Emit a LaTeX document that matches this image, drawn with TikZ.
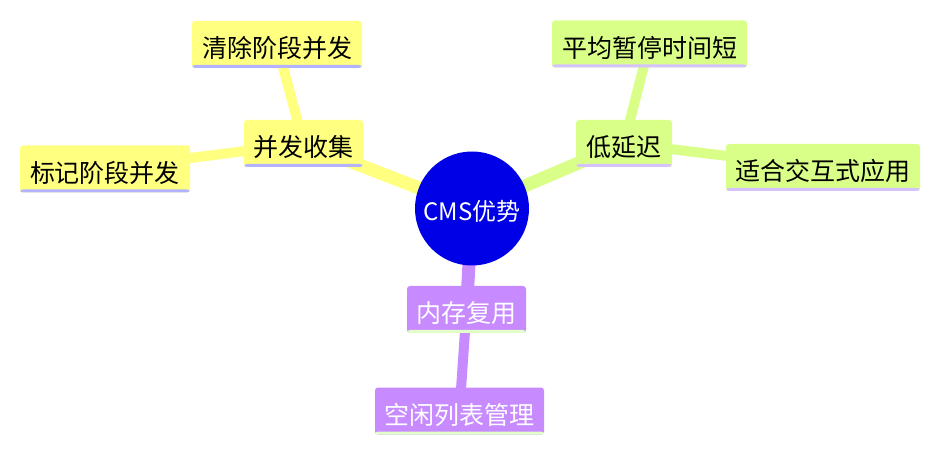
\documentclass[tikz,border=0pt]{standalone}
\usepackage{fontspec}
\setmainfont{Noto Sans CJK SC}
\usetikzlibrary{backgrounds}
\definecolor{ylw}{HTML}{FFFF80}
\definecolor{grn}{HTML}{D9FF88}
\definecolor{prp}{HTML}{C78BFF}
\definecolor{ulY}{HTML}{B3B3FF}
\definecolor{ulG}{HTML}{D5C2FF}
\definecolor{ulP}{HTML}{E2FFC9}
\definecolor{rootblue}{HTML}{0000E6}
\tikzset{
  topic/.style={rectangle, rounded corners=3pt, inner xsep=0pt, inner ysep=0pt,
    minimum height=47pt, text height=37pt, text depth=10pt,
    font=\fontsize{25}{25}\selectfont},
  uline/.style={path picture={\fill[#1] ([yshift=3pt]path picture bounding box.south west) rectangle (path picture bounding box.south east);}},
  ytopic/.style={topic, fill=ylw, text=black, uline=ulY},
  gtopic/.style={topic, fill=grn, text=black, uline=ulG},
  ptopic/.style={topic, fill=prp, text=white, uline=ulP},
  mainlink/.style={line width=13pt},
  leaflink/.style={line width=10pt},
}
\begin{document}
\begin{tikzpicture}[x=1pt,y=-1pt]
\useasboundingbox (0,0) rectangle (940,454);
\node[circle, fill=rootblue, text=white, minimum size=114pt, inner sep=0pt,
      text height=30pt, text depth=5pt, font=\fontsize{24}{24}\selectfont] (root) at (472,208.5) {CMS优势};
\node[ytopic, minimum width=119pt] (n1) at (303.5,143.5) {并发收集};
\node[ytopic, minimum width=170pt] (n11) at (277,44.5) {清除阶段并发};
\node[ytopic, minimum width=170pt] (n12) at (105,169) {标记阶段并发};
\node[gtopic, minimum width=96pt] (n2) at (624,143.5) {低延迟};
\node[gtopic, minimum width=195pt] (n21) at (649.5,44) {平均暂停时间短};
\node[gtopic, minimum width=194pt] (n22) at (823,167.5) {适合交互式应用};
\node[ptopic, minimum width=119pt] (n3) at (466.5,309.5) {内存复用};
\node[ptopic, minimum width=169pt] (n31) at (459.5,411) {空闲列表管理};
\begin{scope}[on background layer]
\fill[white] (0,0) rectangle (940,454);
\draw[mainlink, ylw] (root.center) -- (n1.center);
\draw[leaflink, ylw] (n1.center) -- (n11.center);
\draw[leaflink, ylw] (n1.center) -- (n12.center);
\draw[mainlink, grn] (root.center) -- (n2.center);
\draw[leaflink, grn] (n2.center) -- (n21.center);
\draw[leaflink, grn] (n2.center) -- (n22.center);
\draw[mainlink, prp] (root.center) -- (n3.center);
\draw[leaflink, prp] (n3.center) -- (n31.center);
\end{scope}
\end{tikzpicture}
\end{document}
